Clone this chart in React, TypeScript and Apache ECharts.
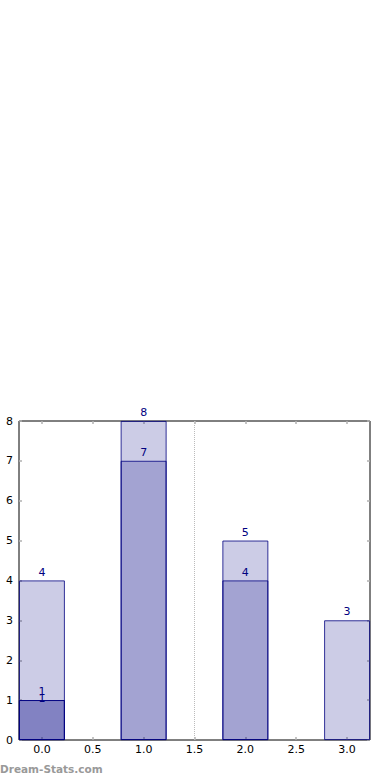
import React, { useEffect, useRef } from "react";
import * as echarts from "echarts";

const positions = [0, 1, 2, 3];
const seriesA = [4, 8, 5, 3];
const seriesB = [1, 7, 4, null];
const seriesC = [1, null, null, null];
const xTicks = [0, 0.5, 1, 1.5, 2, 2.5, 3];
const refLineX = 1.5;
const watermark = "Dream-Stats.com";

const toPairs = (vals: (number | null)[]) =>
  positions
    .map((p, i) => (vals[i] == null ? null : [p, vals[i]]))
    .filter((d) => d !== null);

export default function App() {
  const ref = useRef<HTMLDivElement>(null);
  useEffect(() => {
    if (!ref.current) return;
    const chart = echarts.init(ref.current, null, { renderer: "svg" });
    const font = "DejaVu Sans";
    const fill = "rgba(0,0,128,0.2)";
    const edge = "#000080";
    const tick = { show: true, inside: true, length: 3, lineStyle: { color: "#b0b0b0", width: 1.5 } };
    const noLine = { show: false, onZero: false };
    const label = {
      show: true,
      position: "top",
      distance: 3,
      color: "#000080",
      fontSize: 11,
      fontFamily: font,
    };
    const barBase = {
      type: "bar",
      barWidth: 45.8,
      barGap: "-100%",
      itemStyle: { color: fill, borderColor: edge, borderWidth: 0.8 },
      label,
    };
    chart.setOption({
      animation: false,
      grid: {
        left: 19,
        right: 20,
        top: 421,
        bottom: 40,
        show: true,
        borderColor: "#000",
        borderWidth: 1,
        outerBoundsMode: "none",
      },
      xAxis: [
        {
          type: "value",
          min: -0.225,
          max: 3.225,
          axisLine: noLine,
          splitLine: { show: false },
          axisTick: { ...tick, customValues: xTicks },
          axisLabel: {
            customValues: xTicks,
            formatter: (v: number) => v.toFixed(1),
            color: "#000",
            fontSize: 11,
            fontFamily: font,
            margin: 4,
          },
        },
        {
          type: "value",
          position: "top",
          min: -0.225,
          max: 3.225,
          axisLine: noLine,
          splitLine: { show: false },
          axisTick: { ...tick, customValues: xTicks },
          axisLabel: { show: false },
        },
      ],
      yAxis: [
        {
          type: "value",
          position: "left",
          min: 0,
          max: 8,
          interval: 1,
          axisLine: noLine,
          splitLine: { show: false },
          axisTick: tick,
          axisLabel: { color: "#000", fontSize: 11, fontFamily: font, margin: 6 },
        },
        {
          type: "value",
          position: "right",
          min: 0,
          max: 8,
          interval: 1,
          axisLine: noLine,
          splitLine: { show: false },
          axisTick: tick,
          axisLabel: { show: false },
        },
      ],
      series: [
        {
          ...barBase,
          name: "A",
          data: toPairs(seriesA),
          markLine: {
            silent: true,
            symbol: ["none", "none"],
            label: { show: false },
            lineStyle: { type: "dotted", color: "#bbbbbb", width: 1 },
            data: [{ xAxis: refLineX }],
          },
        },
        { ...barBase, name: "B", data: toPairs(seriesB) },
        {
          ...barBase,
          name: "C",
          data: toPairs(seriesC),
          label: { ...label, offset: [0, 7] },
        },
      ],
      graphic: [
        {
          type: "text",
          left: 0,
          top: 763,
          style: {
            text: watermark,
            fill: "#999",
            fontSize: 10.5,
            fontWeight: "bold",
            fontFamily: font,
          },
        },
      ],
    });
    return () => chart.dispose();
  }, []);
  return (
    <div
      ref={ref}
      style={{ position: "absolute", left: 0, top: 0, width: 390, height: 780 }}
    />
  );
}
